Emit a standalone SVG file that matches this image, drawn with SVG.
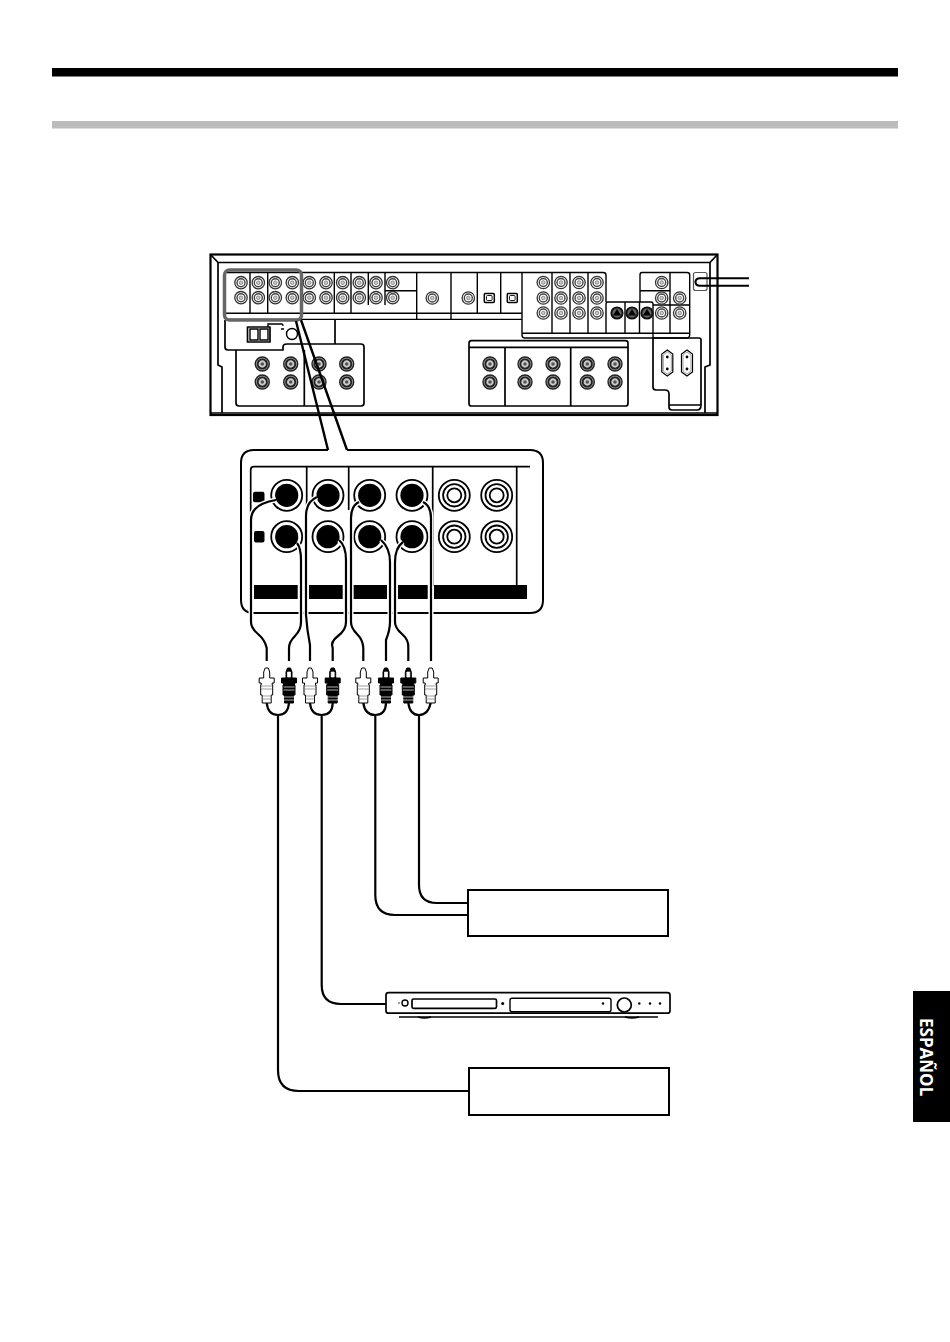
<svg xmlns="http://www.w3.org/2000/svg" xmlns:xlink="http://www.w3.org/1999/xlink" width="950" height="1342" viewBox="0 0 950 1342">
<style>
.l{fill:none;stroke:#000;stroke-width:1.4}
.m{fill:none;stroke:#000;stroke-width:1.7;stroke-linejoin:round}
.b{fill:#fff;stroke:#000;stroke-width:2}
.cw{fill:none;stroke:#fff;stroke-width:5}
.c{fill:none;stroke:#000;stroke-width:2.2}
</style>
<defs>
<g id="j"><circle r="6.2" fill="#fff" stroke="#333" stroke-width="1.3"/><circle r="4" fill="none" stroke="#444" stroke-width="1.4"/><circle r="1.8" fill="#ccc" stroke="#555" stroke-width=".6"/></g>
<g id="jd"><circle r="7" fill="#999" stroke="#222" stroke-width="1.4"/><circle r="4.6" fill="#ccc" stroke="#222" stroke-width="1.8"/><circle r="1.8" fill="#555"/></g>
<g id="s"><circle r="5.6" fill="#666" stroke="#111" stroke-width="2"/><path d="M0-4 4 2.4H-4Z" fill="#000"/></g>
<g id="o"><rect x="-5" y="-4.5" width="10" height="9" rx="1" fill="#fff" stroke="#000" stroke-width="1.5"/><rect x="-2.8" y="-2.5" width="5.6" height="5" rx="1" fill="none" stroke="#000" stroke-width=".9"/></g>
<g id="bj"><circle r="15.5" fill="#fff" stroke="#000" stroke-width="1.8"/><circle r="11.6" fill="#000"/></g>
<g id="wj"><circle r="15.5" fill="#fff" stroke="#000" stroke-width="1.8"/><circle r="11.2" fill="none" stroke="#000" stroke-width="1.8"/><circle r="7" fill="none" stroke="#000" stroke-width="1.8"/></g>
<g id="ac"><path d="M0-13 5.5-9V9L0 13-5.5 9V-9Z" fill="#fff" stroke="#000" stroke-width="1.2"/><path d="M0-11 4-8V8L0 11-4 8V-8Z" fill="none" stroke="#888" stroke-width=".8"/><circle cy="-6" r="1.4"/><circle cy="6" r="1.4"/></g>
<g id="pw"><path d="M-1.5 0H1.5L3 4V10H7.5V15H5.5V17H6V27H4.5V35H-4.5V27H-6V17H-5.5V15H-7.5V10H-3V4Z" fill="#fff" stroke="#000" stroke-width="1"/><path d="M-5.5 18H5.5M-5.5 21H5.5M-4.5 28H4.5M-4.5 31H4.5" stroke="#888" stroke-width=".8"/></g>
<g id="pb"><path d="M-1.5 0H1.5L3 4V10H7.5V15H5.5V17H6V27H4.5V35H-4.5V27H-6V17H-5.5V15H-7.5V10H-3V4Z" fill="#000" stroke="#000" stroke-width="1"/><path d="M-1.5 4H1.5V9H-1.5ZM-5.5 19H5.5M-5.5 22H5.5M-6 29H6M-6 32H6" fill="#fff" stroke="#fff" stroke-width=".7"/></g>
</defs>

<g id="header"><rect x="52" y="68" width="846" height="8.5" fill="#000"/><rect x="52" y="121" width="846" height="7.5" fill="#bcbcbc"/></g>

<g id="receiver">
<rect x="210.5" y="254.5" width="507" height="160.5" fill="#fff" stroke="#000" stroke-width="2.2"/>
<path class="l" d="M210 413H717"/>
<path class="m" d="M211 255 218 262.5H710L717 255M218 262.5V365L222 367V413M710 262.5V365L705 367V413"/>
<path class="l" d="M226 272.5H522M224 313.3H522M225 319.4H522M385 290.7H417"/>
<path class="l" d="M250 272.5V313M267.7 272.5V313M334.3 272.5V313M351 272.5V313M368.3 272.5V305M385 272.5V305M416.7 272.5V319.4M451 272.5V319.4M477.3 272.5V313M500.7 272.5V313"/>
<use href="#j" x="241" y="282.7"/><use href="#j" x="258.3" y="282.7"/><use href="#j" x="275.3" y="282.7"/><use href="#j" x="292.3" y="282.7"/><use href="#j" x="309.3" y="282.7"/><use href="#j" x="326" y="282.7"/><use href="#j" x="342.7" y="282.7"/><use href="#j" x="359.3" y="282.7"/><use href="#j" x="376" y="282.7"/><use href="#j" x="392.7" y="282.7"/>
<use href="#j" x="241" y="297.7"/><use href="#j" x="258.3" y="297.7"/><use href="#j" x="275.3" y="297.7"/><use href="#j" x="292.3" y="297.7"/><use href="#j" x="309.3" y="297.7"/><use href="#j" x="326" y="297.7"/><use href="#j" x="342.7" y="297.7"/><use href="#j" x="359.3" y="297.7"/><use href="#j" x="376" y="297.7"/><use href="#j" x="392.7" y="297.7"/>
<use href="#j" x="432.3" y="298"/><use href="#j" x="468.3" y="298"/><use href="#o" x="489.3" y="298"/><use href="#o" x="512.3" y="298"/>
<path class="l" d="M522 272.5H603Q606 272.5 606 275V302M522 272.5V335Q522 338 525 338H686Q689.7 338 689.7 335V275Q689.7 272.5 687 272.5H642Q640 272.5 640 275V302M522 333.3H689.7M552 272.5V333M570 272.5V333M588 272.5V333"/>
<use href="#j" x="543.3" y="282.5"/><use href="#j" x="561" y="282.5"/><use href="#j" x="579" y="282.5"/><use href="#j" x="597" y="282.5"/>
<use href="#j" x="543.3" y="298"/><use href="#j" x="561" y="298"/><use href="#j" x="579" y="298"/><use href="#j" x="597" y="298"/>
<use href="#j" x="543.3" y="313"/><use href="#j" x="561" y="313"/><use href="#j" x="579" y="313"/><use href="#j" x="597" y="313"/>
<path class="l" d="M606 333V304Q606 302 608 302H651Q653 302 653 304V338M625 302V333M639.5 302V333M640 290.7H670M670 272.5V333M653 305H689.7"/>
<use href="#s" x="617" y="313"/><use href="#s" x="632" y="313"/><use href="#s" x="647" y="313"/>
<use href="#j" x="661.7" y="282.5"/><use href="#j" x="661.7" y="298"/><use href="#j" x="661.7" y="313"/><use href="#j" x="679.7" y="298"/><use href="#j" x="679.7" y="313"/>
<rect x="693.5" y="272.5" width="13.5" height="18" rx="2" fill="#fff" stroke="#555" stroke-width="1.2"/>
<path d="M749 278.3H700Q695.5 278.3 695.5 282T700 285.7H749" fill="none" stroke="#000" stroke-width="2"/>
<path class="m" d="M653 338H699Q701 338 701 340V405Q701 410 697 410H672Q669 410 669 407V394Q669 390 665 390H656Q653 390 653 387ZM669 405H701"/>
<use href="#ac" x="667.3" y="363"/><use href="#ac" x="687" y="363"/>
<path class="m" d="M225 320V347Q225 350 228 350H283V347Q283 344 287 344H361Q364 344 364 347V403Q364 406 361 406H239Q236 406 236 403V350M304.3 350V406M335 320V344"/>
<rect x="247.5" y="327" width="22.5" height="15" class="m"/><path class="l" d="M250 329H258V340H250ZM260 329H268V340H260Z"/>
<path class="l" d="M268 327V324H282Q283 324 283 326M281 329H284"/>
<circle cx="292" cy="334" r="5.5" class="l" fill="#fff"/>
<use href="#jd" x="262.3" y="364"/><use href="#jd" x="290.7" y="364"/><use href="#jd" x="319" y="364"/><use href="#jd" x="346.7" y="364"/>
<use href="#jd" x="262.3" y="382"/><use href="#jd" x="290.7" y="382"/><use href="#jd" x="319" y="382"/><use href="#jd" x="346.7" y="382"/>
<rect x="469" y="340.7" width="159" height="65.3" rx="2.5" class="m"/><path class="m" d="M469 347.3H628M505 347.3V406M570.7 347.3V406"/>
<use href="#jd" x="490" y="364"/><use href="#jd" x="525" y="364"/><use href="#jd" x="553" y="364"/><use href="#jd" x="587.3" y="364"/><use href="#jd" x="615" y="364"/>
<use href="#jd" x="490" y="382"/><use href="#jd" x="525" y="382"/><use href="#jd" x="553" y="382"/><use href="#jd" x="587.3" y="382"/><use href="#jd" x="615" y="382"/>
<rect x="224.5" y="270" width="77" height="50" rx="5" fill="none" stroke="#666" stroke-width="3.5"/>
</g>

<g id="callout">
<path d="M296 321 328 450M301 320 347 450" fill="none" stroke="#000" stroke-width="2.4"/>
<path d="M328 450H254Q241 450 241 463V600Q241 613 254 613H530Q543 613 543 600V463Q543 450 530 450H347" fill="#fff" stroke="#000" stroke-width="2"/>
<path class="m" d="M250.7 515V470Q250.7 466.7 254 466.7H530M306.7 466.7V510M348.7 466.7V510M432.7 466.7V586M516.7 466.7V586"/>
<path d="M254 585H297.7V599H254ZM309 585H342.7V599H309ZM353.3 585H387V599H353.3ZM398 585H427.7V599H398ZM434 585H527V599H434Z" fill="#000"/>
<rect x="253" y="491.7" width="11.5" height="10.5" rx="2" fill="#000"/><rect x="254" y="531" width="10.5" height="11.5" rx="2" fill="#000"/>
<use href="#bj" x="286.7" y="495.3"/><use href="#bj" x="328" y="495.3"/><use href="#bj" x="369.7" y="495.3"/><use href="#bj" x="412" y="495.3"/>
<use href="#bj" x="286.7" y="536.7"/><use href="#bj" x="328" y="536.7"/><use href="#bj" x="369.7" y="536.7"/><use href="#bj" x="412" y="536.7"/>
<use href="#wj" x="454.3" y="495.3"/><use href="#wj" x="496.7" y="495.3"/><use href="#wj" x="454.3" y="536.7"/><use href="#wj" x="496.7" y="536.7"/>
</g>

<g id="connectors">
<g class="cw">
<path d="M276 500Q251 504 251 520V622Q251 628 258 634T266.7 648V661"/>
<path d="M297 543Q301 548 301 560V622Q301 630 295 636T289 648V661"/>
<path d="M317 497Q306 502 306 516V615Q307 630 310 645V661"/>
<path d="M339 540Q346 546 346 560V622Q346 630 338 636T332.7 648V661"/>
<path d="M359 502Q351 506 351 518V622Q351 628 357 634T363.3 648V661"/>
<path d="M381 540Q390 548 390 562V622Q390 630 386 640V661"/>
<path d="M403 542Q395 548 395 562V622Q395 628 402 634T408.3 648V661"/>
<path d="M423 502Q431 506 431 518V661"/>
</g>
<g class="c">
<path d="M276 500Q251 504 251 520V622Q251 628 258 634T266.7 648V661"/>
<path d="M297 543Q301 548 301 560V622Q301 630 295 636T289 648V661"/>
<path d="M317 497Q306 502 306 516V615Q307 630 310 645V661"/>
<path d="M339 540Q346 546 346 560V622Q346 630 338 636T332.7 648V661"/>
<path d="M359 502Q351 506 351 518V622Q351 628 357 634T363.3 648V661"/>
<path d="M381 540Q390 548 390 562V622Q390 630 386 640V661"/>
<path d="M403 542Q395 548 395 562V622Q395 628 402 634T408.3 648V661"/>
<path d="M423 502Q431 506 431 518V661"/>
<path d="M266.7 703Q268 715 278 715T289 703M278 715V1070Q278 1091 299 1091H469"/>
<path d="M310 703Q311 715 321.7 715T332.7 703M321.7 715V985Q321.7 1004 341 1004H386"/>
<path d="M363.3 703Q365 715 375.3 715T386 703M375.3 715V895Q375.3 915 395 915H468"/>
<path d="M408.3 703Q410 715 419 715T430.7 703M419 715V885Q419 903 437 903H468"/>
</g>
<use href="#pw" x="266.7" y="668"/><use href="#pb" x="289" y="668"/><use href="#pw" x="310" y="668"/><use href="#pb" x="332.7" y="668"/>
<use href="#pw" x="363.3" y="668"/><use href="#pb" x="386" y="668"/><use href="#pb" x="408.3" y="668"/><use href="#pw" x="430.7" y="668"/>
</g>

<g id="box-top"><rect x="468" y="890" width="200" height="46" class="b"/></g>
<g id="dvd-player">
<rect x="386" y="992.7" width="284" height="20.5" rx="2.5" class="m" fill="#fff"/>
<path class="m" d="M399 1017H658"/>
<path class="l" d="M418 1017Q424 1019 431 1017M625 1017Q632 1019 639 1017"/>
<rect x="412" y="999" width="84.5" height="9.3" rx="1.5" class="m"/>
<rect x="510" y="998.3" width="101" height="13.4" rx="2" class="l"/>
<circle cx="405" cy="1003" r="3" class="l"/><circle cx="399" cy="1003" r=".7"/>
<circle cx="502.7" cy="1003.5" r="1.5"/><circle cx="603" cy="1003.5" r="1.2"/>
<circle cx="624.3" cy="1005" r="7" class="m"/>
<circle cx="639.3" cy="1003.5" r="1.2"/><circle cx="650" cy="1003.5" r="1.2"/><circle cx="660" cy="1003.5" r="1.2"/>
</g>
<g id="box-bottom"><rect x="469" y="1068" width="200" height="47" class="b"/></g>
<g id="language-tab">
<rect x="913" y="991" width="37" height="131" fill="#000"/>
<text transform="translate(919.5 1018) rotate(90)" font-family="'Open Sans',sans-serif" font-size="17" font-weight="700" fill="#fff">ESPAÑOL</text>
</g>
</svg>
